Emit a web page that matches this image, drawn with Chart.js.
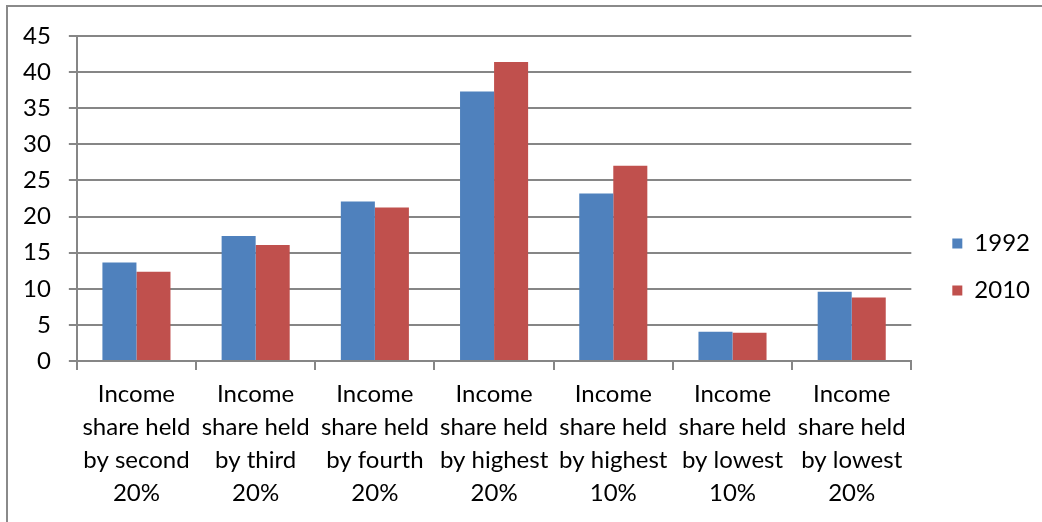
<!DOCTYPE html>
<html>
<head>
<meta charset="utf-8">
<script src="https://cdn.jsdelivr.net/npm/chart.js@4"></script>
<style>
  html, body { margin: 0; padding: 0; background: #fff; }
  #wrap { position: relative; width: 1042px; height: 522px; overflow: hidden; }
  #frame { position: absolute; left: 6px; top: 5px; width: 1100px; height: 600px;
           border-left: 2px solid #8a8a8a; border-top: 2px solid #8a8a8a; }
  canvas { position: absolute; left: 0; top: 0; }
</style>
</head>
<body>
<div id="wrap">
  <div id="frame"></div>
  <canvas id="chart" width="1042" height="522"></canvas>
</div>
<script>
const categories = [
  ['Income', 'share held', 'by second', '20%'],
  ['Income', 'share held', 'by third', '20%'],
  ['Income', 'share held', 'by fourth', '20%'],
  ['Income', 'share held', 'by highest', '20%'],
  ['Income', 'share held', 'by highest', '10%'],
  ['Income', 'share held', 'by lowest', '10%'],
  ['Income', 'share held', 'by lowest', '20%']
];
const values1992 = [13.65, 17.3, 22.1, 37.3, 23.2, 4.06, 9.6];
const values2010 = [12.35, 16.05, 21.25, 41.4, 27.05, 3.92, 8.8];

const axisGray = '#868686';
const font = { family: 'Lato', size: 24 };

// nudge the legend block right/up so it sits where the original one does
const legendShift = {
  id: 'legendShift',
  afterLayout(chart) {
    const lg = chart.legend;
    lg.left += 18; lg.right += 18;
    lg.top -= 10; lg.bottom -= 10;
  }
};

const ctx = document.getElementById('chart').getContext('2d');
new Chart(ctx, {
  type: 'bar',
  data: {
    labels: categories,
    datasets: [
      { label: '1992', data: values1992, backgroundColor: '#4F81BD' },
      { label: '2010', data: values2010, backgroundColor: '#C0504D' }
    ]
  },
  options: {
    responsive: false,
    animation: false,
    categoryPercentage: 0.571,
    barPercentage: 1.0,
    layout: { padding: { left: 5, top: 36, right: 20, bottom: 4 } },
    plugins: {
      tooltip: { enabled: false },
      legend: {
        position: 'right',
        labels: {
          boxWidth: 10,
          boxHeight: 10,
          padding: 23,
          color: '#000',
          font: font
        }
      }
    },
    scales: {
      x: {
        offset: true,
        grid: {
          offset: true,
          drawOnChartArea: false,
          drawTicks: true,
          tickLength: 9,
          color: axisGray,
          lineWidth: 2
        },
        border: { display: true, color: axisGray, width: 2 },
        ticks: {
          maxRotation: 0,
          autoSkip: false,
          color: '#000',
          padding: 8,
          font: { family: 'Lato', size: 24, lineHeight: 1.375 }
        }
      },
      y: {
        min: 0,
        max: 45,
        grid: {
          color: axisGray,
          lineWidth: 2,
          drawTicks: true,
          tickLength: 8
        },
        border: { display: true, color: axisGray, width: 2 },
        ticks: {
          stepSize: 5,
          color: '#000',
          padding: 18,
          font: font
        }
      }
    }
  },
  plugins: [legendShift]
});
</script>
</body>
</html>
